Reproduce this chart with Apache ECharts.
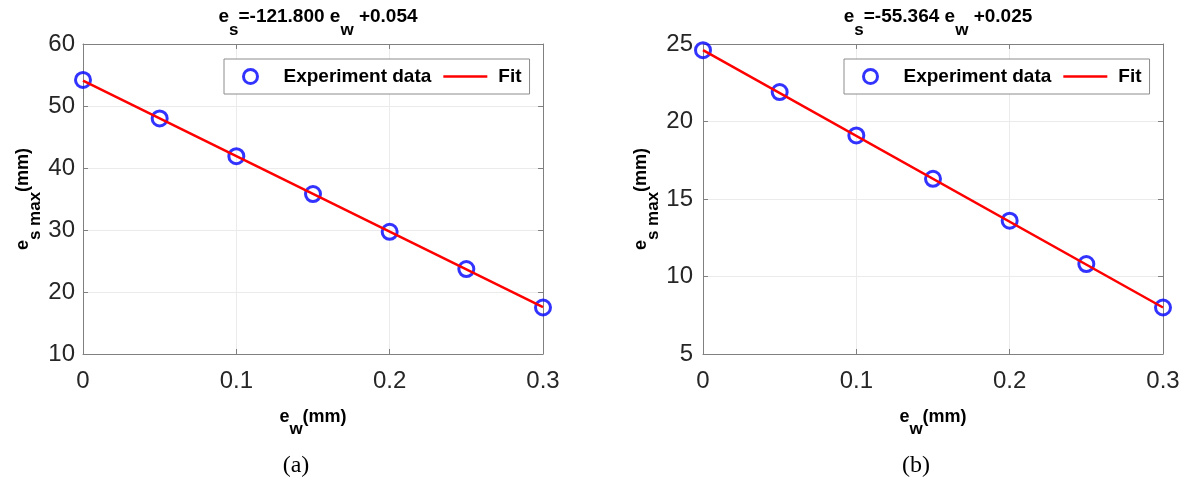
<!DOCTYPE html>
<html><head><meta charset="utf-8">
<script src="https://cdn.jsdelivr.net/npm/echarts@6/dist/echarts.min.js"></script>
<style>html,body{margin:0;padding:0;background:#fff}#c{width:1189px;height:488px}</style>
</head><body><div id="c"></div>
<script>
// ---- data ----
const xValues = [0, 0.05, 0.1, 0.15, 0.2, 0.25, 0.3];
const expA = [54.2, 48.0, 41.9, 35.8, 29.7, 23.7, 17.5];
const expB = [24.6, 21.9, 19.1, 16.3, 13.6, 10.8, 8.0];
const fitX = [0, 0.3];
const fitA = [54.1, 17.55];
const fitB = [24.6, 8.0];
const xTicks = [0, 0.1, 0.2, 0.3];
const yTicksA = [10, 20, 30, 40, 50, 60];
const yTicksB = [5, 10, 15, 20, 25];
const titleA = ['e', 's', '=-121.800 e', 'w', ' +0.054'];
const titleB = ['e', 's', '=-55.364 e', 'w', ' +0.025'];
const captions = ['(a)', '(b)'];
const legendNames = ['Experiment data', 'Fit'];

const pair = (xs, ys) => xs.map((x, i) => [x, ys[i]]);
const richTitle = p => `{m|${p[0]}}{s|${p[1]}}{m|${p[2]}}{s|${p[3]}}{m|${p[4]}}`;

const FONT = 'Liberation Sans, Arial, Helvetica, sans-serif';
const rich = (size, sub, shift) => ({
  m: {fontFamily: FONT, fontWeight: 'bold', fontSize: size, color: '#000', lineHeight: size + 4, padding: [0, 0, shift, 0]},
  s: {fontFamily: FONT, fontWeight: 'bold', fontSize: sub, color: '#000', lineHeight: size + 4, padding: [shift, 0, 0, 0]}
});

const grids = [
  {left: 83, top: 44, width: 460, height: 310},
  {left: 703, top: 44, width: 460, height: 310}
];
const yCfg = [
  {min: yTicksA[0], max: yTicksA[yTicksA.length - 1], interval: yTicksA[1] - yTicksA[0]},
  {min: yTicksB[0], max: yTicksB[yTicksB.length - 1], interval: yTicksB[1] - yTicksB[0]}
];

const AX = '#808080';
const xAxes = [], yAxes = [], series = [], titles = [], legends = [];
[0, 1].forEach(g => {
  const xBase = {
    gridIndex: g, type: 'value', min: xTicks[0], max: xTicks[xTicks.length - 1], interval: xTicks[1] - xTicks[0]
  };
  xAxes.push(Object.assign({}, xBase, {
    position: 'bottom',
    axisLine: {show: true, onZero: false, lineStyle: {color: AX, width: 1}},
    axisTick: {show: true, inside: true, length: 5, lineStyle: {color: AX}},
    axisLabel: {color: '#262626', fontSize: 24, fontFamily: FONT, margin: 15, formatter: v => String(v)},
    splitLine: {show: true, lineStyle: {color: '#ebebeb', width: 1}},
    name: '{m|e}{s|w}{m|(mm)}', nameLocation: 'middle', nameGap: 58,
    nameTextStyle: {rich: rich(18, 17, 12)}
  }));
  xAxes.push(Object.assign({}, xBase, {
    position: 'top',
    axisLine: {show: true, onZero: false, lineStyle: {color: AX, width: 1}},
    axisTick: {show: true, inside: true, length: 5, lineStyle: {color: AX}},
    axisLabel: {show: false}, splitLine: {show: false}
  }));
  const yBase = Object.assign({gridIndex: g, type: 'value'}, yCfg[g]);
  yAxes.push(Object.assign({}, yBase, {
    position: 'left',
    axisLine: {show: true, onZero: false, lineStyle: {color: AX, width: 1}},
    axisTick: {show: true, inside: true, length: 5, lineStyle: {color: AX}},
    axisLabel: {color: '#262626', fontSize: 24, fontFamily: FONT, margin: g === 0 ? 8 : 10},
    splitLine: {show: true, lineStyle: {color: '#ebebeb', width: 1}},
    name: '{m|e}{s|s max}{m|(mm)}', nameLocation: 'middle', nameGap: 37, nameRotate: 90,
    nameTextStyle: {rich: rich(18, 17, 12)}
  }));
  yAxes.push(Object.assign({}, yBase, {
    position: 'right',
    axisLine: {show: true, onZero: false, lineStyle: {color: AX, width: 1}},
    axisTick: {show: true, inside: true, length: 5, lineStyle: {color: AX}},
    axisLabel: {show: false}, splitLine: {show: false}
  }));
  const exp = g === 0 ? expA : expB;
  const fit = g === 0 ? fitA : fitB;
  series.push({
    name: legendNames[0], type: 'scatter', xAxisIndex: g * 2, yAxisIndex: g * 2,
    data: pair(xValues, exp), symbol: 'circle', symbolSize: 15,
    itemStyle: {color: 'rgba(255,255,255,0)', borderColor: '#0000ff', borderWidth: 3},
    z: 3
  });
  series.push({
    name: legendNames[1], type: 'line', xAxisIndex: g * 2, yAxisIndex: g * 2,
    data: pair(fitX, fit), symbol: 'none', showSymbol: false,
    lineStyle: {color: '#ff0000', width: 2.5}, itemStyle: {color: '#ff0000'},
    z: 4
  });
  const cx = grids[g].left + grids[g].width / 2;
  titles.push({
    text: richTitle(g === 0 ? titleA : titleB), left: cx, top: 7, textAlign: 'center',
    textStyle: {rich: rich(19, 17, 13)}
  });
  titles.push({
    text: captions[g], left: cx - 22, top: 449, textAlign: 'center',
    textStyle: {fontFamily: 'Liberation Serif, Times New Roman, serif', fontWeight: 'normal', fontSize: 24, color: '#000'}
  });
  legends.push({
    data: [
      {name: legendNames[0], icon: 'circle', itemStyle: {color: 'rgba(255,255,255,0)', borderColor: '#0000ff', borderWidth: 3}},
      {name: legendNames[1], icon: 'path://M0,0 L44,0 L44,2.6 L0,2.6 Z', itemStyle: {color: '#ff0000', borderWidth: 0}}
    ],
    left: grids[g].left + 141, top: 59,
    orient: 'horizontal', itemWidth: 44, itemHeight: 14, itemGap: 12,
    padding: [8, 8, 8, 18],
    backgroundColor: '#fff', borderColor: '#8c8c8c', borderWidth: 1, borderRadius: 0,
    textStyle: {fontFamily: FONT, fontWeight: 'bold', fontSize: 19, color: '#000', padding: [0, 0, 0, 6]},
    selectedMode: false
  });
});

const chart = echarts.init(document.getElementById('c'), null, {renderer: 'canvas'});
chart.setOption({
  animation: false,
  backgroundColor: '#fff',
  title: titles,
  grid: grids,
  xAxis: xAxes,
  yAxis: yAxes,
  legend: legends,
  series: series
});
</script></body></html>
